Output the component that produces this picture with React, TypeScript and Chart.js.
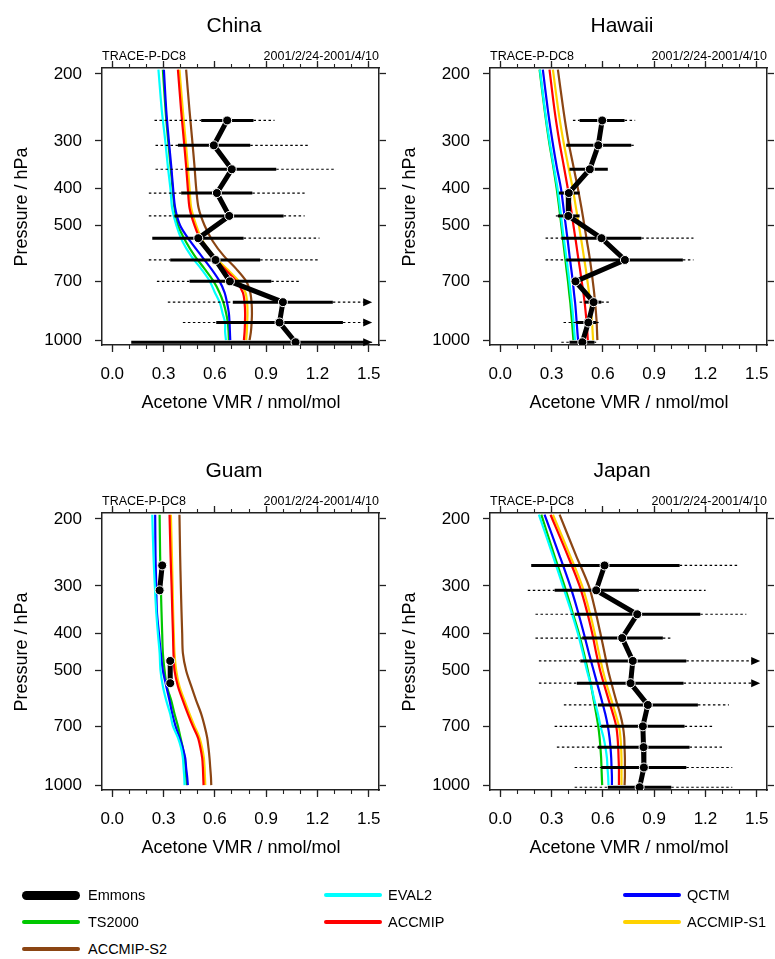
import React, { useEffect, useRef } from "react";
import { Chart, registerables } from "chart.js";

Chart.register(...registerables);

const FONT = "'Liberation Sans', Arial, Helvetica, sans-serif";

// Pressure grid of model profiles (hPa)
const MODEL_P = [195, 250, 300, 350, 400, 450, 500, 550, 600, 650, 700, 750, 800, 850, 900, 950, 1000];
// Pressure of observation bins (hPa)
const OBS_P = [265, 308, 356, 411, 472, 540, 616, 701, 795, 899, 1013];

const Y_TICKS = [200, 300, 400, 500, 700, 1000];
const X_TICKS = [0, 0.3, 0.6, 0.9, 1.2, 1.5];
const X_MINOR_TICKS = [0, 0.1, 0.2, 0.3, 0.4, 0.5, 0.6, 0.7, 0.8, 0.9, 1.0, 1.1, 1.2, 1.3, 1.4, 1.5];
const X_MIN = -0.06;
const X_MAX = 1.56;
const P_TOP = 193;
const P_BOTTOM = 1030;
const ARROW_X = 1.52;

const MODELS = ["EVAL2", "QCTM", "TS2000", "ACCMIP", "ACCMIP-S1", "ACCMIP-S2"];
const COLORS: Record<string, string> = {
  Emmons: "#000000",
  EVAL2: "#00FFFF",
  QCTM: "#0000FF",
  TS2000: "#00C800",
  ACCMIP: "#FF0000",
  "ACCMIP-S1": "#FFD200",
  "ACCMIP-S2": "#8B4513",
};

// ---------- China ----------
const CHINA_EVAL2 = [0.27, 0.29, 0.31, 0.325, 0.34, 0.35, 0.375, 0.41, 0.46, 0.52, 0.57, 0.6, 0.63, 0.645, 0.66, 0.66, 0.665];
const CHINA_TS2000 = [0.296, 0.312, 0.327, 0.341, 0.353, 0.364, 0.384, 0.429, 0.481, 0.54, 0.592, 0.627, 0.651, 0.666, 0.676, 0.68, 0.682];
const CHINA_QCTM = [0.302, 0.316, 0.331, 0.345, 0.356, 0.368, 0.397, 0.456, 0.52, 0.579, 0.627, 0.657, 0.672, 0.682, 0.686, 0.688, 0.69];
const CHINA_ACCMIP = [0.384, 0.403, 0.419, 0.432, 0.442, 0.452, 0.481, 0.52, 0.579, 0.657, 0.725, 0.764, 0.774, 0.777, 0.776, 0.774, 0.77];
const CHINA_S1 = [0.393, 0.413, 0.429, 0.442, 0.452, 0.462, 0.491, 0.53, 0.592, 0.67, 0.74, 0.779, 0.789, 0.791, 0.789, 0.787, 0.783];
const CHINA_S2 = [0.432, 0.452, 0.468, 0.481, 0.491, 0.505, 0.54, 0.588, 0.651, 0.725, 0.783, 0.807, 0.815, 0.817, 0.815, 0.811, 0.803];
const CHINA_MEAN = [0.672, 0.594, 0.699, 0.612, 0.684, 0.503, 0.604, 0.688, 0.998, 0.978, 1.072];
const CHINA_SD_LO = [0.52, 0.384, 0.433, 0.403, 0.364, 0.234, 0.339, 0.452, 0.705, 0.608, 0.111];
const CHINA_SD_HI = [0.826, 0.807, 0.959, 0.819, 1.002, 0.768, 0.865, 0.93, 1.29, 1.349, 1.6];
const CHINA_MIN = [0.247, 0.253, 0.253, 0.214, 0.214, 0.234, 0.214, 0.261, 0.325, 0.413, 0.111];
const CHINA_MAX = [0.949, 1.144, 1.306, 1.125, 1.125, 1.212, 1.203, 1.105, 1.7, 1.7, 1.8];

// ---------- Hawaii ----------
const HAWAII_EVAL2 = [0.232, 0.262, 0.288, 0.313, 0.335, 0.35, 0.362, 0.374, 0.385, 0.395, 0.404, 0.411, 0.418, 0.424, 0.429, 0.433, 0.437];
const HAWAII_TS2000 = [0.23, 0.26, 0.285, 0.31, 0.33, 0.345, 0.357, 0.368, 0.378, 0.387, 0.396, 0.403, 0.41, 0.415, 0.42, 0.424, 0.428];
const HAWAII_QCTM = [0.249, 0.279, 0.305, 0.33, 0.355, 0.37, 0.383, 0.395, 0.405, 0.415, 0.424, 0.431, 0.438, 0.443, 0.447, 0.451, 0.455];
const HAWAII_ACCMIP = [0.288, 0.318, 0.345, 0.372, 0.395, 0.413, 0.428, 0.442, 0.454, 0.466, 0.476, 0.486, 0.494, 0.5, 0.505, 0.509, 0.512];
const HAWAII_S1 = [0.308, 0.34, 0.369, 0.398, 0.424, 0.443, 0.46, 0.475, 0.488, 0.5, 0.51, 0.519, 0.527, 0.532, 0.537, 0.54, 0.543];
const HAWAII_S2 = [0.337, 0.37, 0.398, 0.428, 0.454, 0.475, 0.492, 0.507, 0.521, 0.532, 0.541, 0.549, 0.555, 0.56, 0.564, 0.566, 0.568];
const HAWAII_MEAN = [0.596, 0.573, 0.524, 0.401, 0.398, 0.592, 0.729, 0.44, 0.546, 0.515, 0.48];
const HAWAII_SD_LO = [0.464, 0.386, 0.405, 0.343, 0.337, 0.357, 0.386, null, 0.493, 0.444, 0.405];
const HAWAII_SD_HI = [0.727, 0.766, 0.629, 0.464, 0.464, 0.825, 1.068, null, 0.591, 0.561, 0.551];
const HAWAII_MIN = [0.425, 0.386, 0.405, 0.343, 0.325, 0.265, 0.265, null, 0.464, 0.37, 0.357];
const HAWAII_MAX = [0.789, 0.789, 0.629, 0.464, 0.464, 1.13, 1.13, null, 0.639, 0.581, 0.561];

// ---------- Guam ----------
const GUAM_EVAL2 = [0.234, 0.241, 0.249, 0.257, 0.267, 0.277, 0.282, 0.296, 0.316, 0.339, 0.355, 0.384, 0.403, 0.413, 0.417, 0.421, 0.423];
const GUAM_TS2000 = [0.277, 0.28, 0.284, 0.288, 0.292, 0.296, 0.306, 0.319, 0.345, 0.364, 0.384, 0.399, 0.413, 0.423, 0.429, 0.432, 0.436];
const GUAM_QCTM = [0.251, 0.253, 0.257, 0.261, 0.273, 0.284, 0.296, 0.316, 0.335, 0.351, 0.37, 0.393, 0.413, 0.427, 0.432, 0.438, 0.442];
const GUAM_ACCMIP = [0.335, 0.341, 0.347, 0.351, 0.355, 0.358, 0.364, 0.384, 0.413, 0.442, 0.471, 0.501, 0.516, 0.526, 0.53, 0.532, 0.534];
const GUAM_S1 = [0.343, 0.349, 0.353, 0.356, 0.36, 0.364, 0.374, 0.393, 0.423, 0.452, 0.481, 0.51, 0.526, 0.536, 0.54, 0.542, 0.544];
const GUAM_S2 = [0.393, 0.397, 0.401, 0.405, 0.409, 0.413, 0.432, 0.462, 0.491, 0.52, 0.54, 0.555, 0.563, 0.569, 0.573, 0.577, 0.579];
const GUAM_MEAN = [0.292, 0.277, null, null, 0.339, 0.339, null, null, null, null, null];
const GUAM_SD_LO = [0.282, null, null, null, null, null, null, null, null, null, null];
const GUAM_SD_HI = [0.3, null, null, null, null, null, null, null, null, null, null];
const GUAM_MIN = [0.276, null, null, null, null, null, null, null, null, null, null];
const GUAM_MAX = [0.306, null, null, null, null, null, null, null, null, null, null];

// ---------- Japan ----------
const JAPAN_EVAL2 = [0.226, 0.308, 0.366, 0.415, 0.454, 0.483, 0.507, 0.532, 0.551, 0.571, 0.586, 0.604, 0.616, 0.624, 0.627, 0.631, 0.633];
const JAPAN_TS2000 = [0.24, 0.317, 0.376, 0.421, 0.46, 0.489, 0.512, 0.532, 0.547, 0.561, 0.573, 0.581, 0.586, 0.59, 0.592, 0.594, 0.596];
const JAPAN_QCTM = [0.259, 0.347, 0.409, 0.454, 0.489, 0.518, 0.546, 0.571, 0.594, 0.614, 0.629, 0.639, 0.645, 0.649, 0.651, 0.653, 0.653];
const JAPAN_ACCMIP = [0.294, 0.395, 0.464, 0.507, 0.538, 0.561, 0.584, 0.61, 0.635, 0.659, 0.678, 0.686, 0.69, 0.692, 0.694, 0.694, 0.694];
const JAPAN_S1 = [0.308, 0.409, 0.479, 0.522, 0.553, 0.577, 0.6, 0.625, 0.651, 0.674, 0.694, 0.703, 0.707, 0.709, 0.709, 0.709, 0.709];
const JAPAN_S2 = [0.347, 0.444, 0.518, 0.557, 0.586, 0.61, 0.631, 0.655, 0.678, 0.701, 0.717, 0.725, 0.727, 0.729, 0.729, 0.729, 0.727];
const JAPAN_MEAN = [0.61, 0.561, 0.801, 0.713, 0.775, 0.762, 0.863, 0.834, 0.838, 0.84, 0.815];
const JAPAN_SD_LO = [0.181, 0.318, 0.435, 0.479, 0.468, 0.448, 0.571, 0.59, 0.571, 0.59, 0.629];
const JAPAN_SD_HI = [1.049, 0.811, 1.17, 0.951, 1.088, 1.072, 1.156, 1.078, 1.107, 1.088, 1.0];
const JAPAN_MIN = [0.181, 0.161, 0.206, 0.206, 0.226, 0.226, 0.372, 0.318, 0.331, 0.435, 0.435];
const JAPAN_MAX = [1.39, 1.201, 1.439, 1.006, 1.7, 1.7, 1.337, 1.24, 1.298, 1.357, 1.357];

type Num = number | null;
interface PanelData {
  title: string;
  models: Record<string, number[]>;
  mean: Num[];
  sdLo: Num[];
  sdHi: Num[];
  min: Num[];
  max: Num[];
}

const PANELS: PanelData[] = [
  {
    title: "China",
    models: { EVAL2: CHINA_EVAL2, QCTM: CHINA_QCTM, TS2000: CHINA_TS2000, ACCMIP: CHINA_ACCMIP, "ACCMIP-S1": CHINA_S1, "ACCMIP-S2": CHINA_S2 },
    mean: CHINA_MEAN, sdLo: CHINA_SD_LO, sdHi: CHINA_SD_HI, min: CHINA_MIN, max: CHINA_MAX,
  },
  {
    title: "Hawaii",
    models: { EVAL2: HAWAII_EVAL2, QCTM: HAWAII_QCTM, TS2000: HAWAII_TS2000, ACCMIP: HAWAII_ACCMIP, "ACCMIP-S1": HAWAII_S1, "ACCMIP-S2": HAWAII_S2 },
    mean: HAWAII_MEAN, sdLo: HAWAII_SD_LO, sdHi: HAWAII_SD_HI, min: HAWAII_MIN, max: HAWAII_MAX,
  },
  {
    title: "Guam",
    models: { EVAL2: GUAM_EVAL2, QCTM: GUAM_QCTM, TS2000: GUAM_TS2000, ACCMIP: GUAM_ACCMIP, "ACCMIP-S1": GUAM_S1, "ACCMIP-S2": GUAM_S2 },
    mean: GUAM_MEAN, sdLo: GUAM_SD_LO, sdHi: GUAM_SD_HI, min: GUAM_MIN, max: GUAM_MAX,
  },
  {
    title: "Japan",
    models: { EVAL2: JAPAN_EVAL2, QCTM: JAPAN_QCTM, TS2000: JAPAN_TS2000, ACCMIP: JAPAN_ACCMIP, "ACCMIP-S1": JAPAN_S1, "ACCMIP-S2": JAPAN_S2 },
    mean: JAPAN_MEAN, sdLo: JAPAN_SD_LO, sdHi: JAPAN_SD_HI, min: JAPAN_MIN, max: JAPAN_MAX,
  },
];

const LEGEND_ITEMS = ["Emmons", "EVAL2", "QCTM", "TS2000", "ACCMIP", "ACCMIP-S1", "ACCMIP-S2"];

const CANVAS_W = 387;
const CANVAS_H = 445;
const AREA_LEFT = 102;
const AREA_RIGHT = 379;
const AREA_TOP = 68;
const AREA_BOTTOM = 345;
const X_AXIS_H = 50;

function makeOverlayPlugin(panel: PanelData) {
  return {
    id: "overlay",
    beforeDatasetDraw(chart: any, args: any) {
      if (args.index !== 0) return;
      const ctx = chart.ctx as CanvasRenderingContext2D;
      const xs = chart.scales.x;
      const ys = chart.scales.y;
      const xp = (v: number) => xs.getPixelForValue(Math.min(v, ARROW_X));
      const seg = (a: number, b: number, py: number) => {
        ctx.beginPath();
        ctx.moveTo(a, py);
        ctx.lineTo(b, py);
        ctx.stroke();
      };
      ctx.save();
      ctx.strokeStyle = "#000";
      ctx.fillStyle = "#000";
      OBS_P.forEach((p, i) => {
        const lo = panel.sdLo[i];
        const hi = panel.sdHi[i];
        if (lo == null || hi == null) return;
        const mn = panel.min[i];
        const mx = panel.max[i];
        const py = ys.getPixelForValue(p);
        const tip = xs.getPixelForValue(ARROW_X);
        const over = (mx != null && mx > 1.5) || hi > 1.5;
        ctx.lineWidth = 1.2;
        ctx.setLineDash([2.5, 2.5]);
        if (mn != null && mn < lo) seg(xp(mn), xp(lo), py);
        if (mx != null && mx > hi) seg(xp(hi), over ? tip - 8 : xp(mx), py);
        ctx.setLineDash([]);
        ctx.lineWidth = 3;
        seg(xp(lo), hi > 1.5 ? tip - 8 : xp(hi), py);
        if (over) {
          ctx.beginPath();
          ctx.moveTo(tip, py);
          ctx.lineTo(tip - 9, py - 4);
          ctx.lineTo(tip - 9, py + 4);
          ctx.closePath();
          ctx.fill();
        }
      });
      ctx.restore();
    },
    afterDraw(chart: any) {
      const ctx = chart.ctx as CanvasRenderingContext2D;
      const area = chart.chartArea;
      ctx.save();
      ctx.fillStyle = "#000";
      ctx.textBaseline = "alphabetic";
      ctx.font = `21px ${FONT}`;
      ctx.textAlign = "center";
      ctx.fillText(panel.title, 234, 32);
      ctx.font = `12.5px ${FONT}`;
      ctx.textAlign = "left";
      ctx.fillText("TRACE-P-DC8", area.left, 60);
      ctx.textAlign = "right";
      ctx.fillText("2001/2/24-2001/4/10", area.right, 60);
      ctx.font = `18px ${FONT}`;
      ctx.textAlign = "center";
      ctx.textBaseline = "middle";
      ctx.fillText("Acetone VMR / nmol/mol", 241, 403);
      ctx.translate(22, 207);
      ctx.rotate(-Math.PI / 2);
      ctx.fillText("Pressure / hPa", 0, 0);
      ctx.restore();
    },
  };
}

const clearPad = (s: any) => {
  s.paddingLeft = 0;
  s.paddingRight = 0;
  s.paddingTop = 0;
  s.paddingBottom = 0;
};
const fitH = (h: number) => (s: any) => {
  s.height = h;
  clearPad(s);
};
const fitW = (w: number) => (s: any) => {
  s.width = w;
  clearPad(s);
};
const setTicks = (vals: number[]) => (s: any) => {
  s.ticks = vals.map((v) => ({ value: v }));
};

function Panel({ panel, left, top }: { panel: PanelData; left: number; top: number }) {
  const ref = useRef<HTMLCanvasElement>(null);
  useEffect(() => {
    const canvas = ref.current;
    if (!canvas) return;
    const obsSet: any = {
      label: "Emmons",
      data: OBS_P.map((p, i) => ({ x: panel.mean[i], y: p })),
      borderColor: "#000",
      backgroundColor: "#000",
      borderWidth: 5,
      pointRadius: 4.5,
      pointBackgroundColor: "#000",
      pointBorderColor: "#fff",
      pointBorderWidth: 1,
      spanGaps: false,
      tension: 0,
      indexAxis: "y",
    };
    const modelSets: any[] = MODELS.map((name) => ({
      label: name,
      data: MODEL_P.map((p, i) => ({ x: panel.models[name][i], y: p })),
      borderColor: COLORS[name],
      backgroundColor: COLORS[name],
      borderWidth: 2.2,
      pointRadius: 0,
      tension: 0.3,
      fill: false,
      indexAxis: "y",
    }));
    const tickFont = { family: FONT, size: 17 };
    const axisColor = "#222";
    const chart = new Chart(canvas, {
      type: "line",
      data: { datasets: [obsSet, ...modelSets] },
      options: {
        responsive: false,
        animation: false,
        indexAxis: "y",
        events: [],
        layout: {
          padding: {
            left: 0,
            right: CANVAS_W - AREA_RIGHT,
            top: AREA_TOP,
            bottom: CANVAS_H - AREA_BOTTOM - X_AXIS_H,
          },
        },
        plugins: { legend: { display: false }, tooltip: { enabled: false }, title: { display: false } },
        scales: {
          xMinor: {
            type: "linear",
            position: "bottom",
            weight: 0,
            min: X_MIN,
            max: X_MAX,
            afterBuildTicks: setTicks(X_MINOR_TICKS),
            afterFit: fitH(0),
            grid: { drawOnChartArea: false, drawTicks: true, tickLength: 4, tickWidth: 1.1, color: axisColor },
            border: { display: false },
            ticks: { display: false },
          },
          x: {
            type: "linear",
            position: "bottom",
            weight: 1,
            min: X_MIN,
            max: X_MAX,
            afterBuildTicks: setTicks(X_TICKS),
            afterFit: fitH(X_AXIS_H),
            grid: { drawOnChartArea: false, drawTicks: true, tickLength: 7, tickWidth: 1.3, color: axisColor },
            border: { display: true, color: axisColor, width: 1.5 },
            ticks: {
              font: tickFont,
              color: "#000",
              padding: 12,
              maxRotation: 0,
              minRotation: 0,
              autoSkip: false,
              callback: (v: any) => Number(v).toFixed(1),
            },
          },
          xTop: {
            type: "linear",
            position: "top",
            min: X_MIN,
            max: X_MAX,
            afterBuildTicks: setTicks(X_TICKS),
            afterFit: fitH(0),
            grid: { drawOnChartArea: false, drawTicks: true, tickLength: 7, tickWidth: 1.3, color: axisColor },
            border: { display: true, color: axisColor, width: 1.5 },
            ticks: { display: false },
          },
          xTopMinor: {
            type: "linear",
            position: "top",
            min: X_MIN,
            max: X_MAX,
            afterBuildTicks: setTicks(X_MINOR_TICKS),
            afterFit: fitH(0),
            grid: { drawOnChartArea: false, drawTicks: true, tickLength: 4, tickWidth: 1.1, color: axisColor },
            border: { display: false },
            ticks: { display: false },
          },
          y: {
            type: "logarithmic",
            position: "left",
            reverse: true,
            min: P_TOP,
            max: P_BOTTOM,
            afterBuildTicks: setTicks(Y_TICKS),
            afterFit: fitW(AREA_LEFT),
            grid: { drawOnChartArea: false, drawTicks: true, tickLength: 7, tickWidth: 1.3, color: axisColor },
            border: { display: true, color: axisColor, width: 1.5 },
            ticks: {
              font: tickFont,
              color: "#000",
              padding: 13,
              autoSkip: false,
              callback: (v: any) => String(v),
            },
          },
          yRight: {
            type: "logarithmic",
            position: "right",
            reverse: true,
            min: P_TOP,
            max: P_BOTTOM,
            afterBuildTicks: setTicks(Y_TICKS),
            afterFit: fitW(0),
            grid: { drawOnChartArea: false, drawTicks: true, tickLength: 7, tickWidth: 1.3, color: axisColor },
            border: { display: true, color: axisColor, width: 1.5 },
            ticks: { display: false },
          },
        },
      } as any,
      plugins: [makeOverlayPlugin(panel)],
    });
    return () => chart.destroy();
  }, [panel]);
  return (
    <canvas
      ref={ref}
      width={CANVAS_W}
      height={CANVAS_H}
      style={{ position: "absolute", left, top, width: CANVAS_W, height: CANVAS_H }}
    />
  );
}

const LEGEND_COL_LINE = [22, 324, 623];
const LEGEND_COL_TEXT = [88, 388, 687];
const LEGEND_ROW_Y = [895, 922, 949];

function Legend() {
  return (
    <>
      {LEGEND_ITEMS.map((name, i) => {
        const col = i % 3;
        const row = Math.floor(i / 3);
        const thick = name === "Emmons" ? 9 : 4;
        const y = LEGEND_ROW_Y[row];
        return (
          <React.Fragment key={name}>
            <div
              style={{
                position: "absolute",
                left: LEGEND_COL_LINE[col],
                top: y - thick / 2,
                width: 58,
                height: thick,
                borderRadius: thick / 2,
                background: COLORS[name],
              }}
            />
            <div
              style={{
                position: "absolute",
                left: LEGEND_COL_TEXT[col],
                top: y - 10,
                height: 20,
                lineHeight: "20px",
                fontFamily: FONT,
                fontSize: 14.5,
                color: "#000",
                whiteSpace: "nowrap",
              }}
            >
              {name}
            </div>
          </React.Fragment>
        );
      })}
    </>
  );
}

export default function App() {
  return (
    <div style={{ position: "absolute", left: 0, top: 0, width: 775, height: 959, background: "#fff", overflow: "hidden" }}>
      <Panel panel={PANELS[0]} left={0} top={0} />
      <Panel panel={PANELS[1]} left={388} top={0} />
      <Panel panel={PANELS[2]} left={0} top={445} />
      <Panel panel={PANELS[3]} left={388} top={445} />
      <Legend />
    </div>
  );
}
